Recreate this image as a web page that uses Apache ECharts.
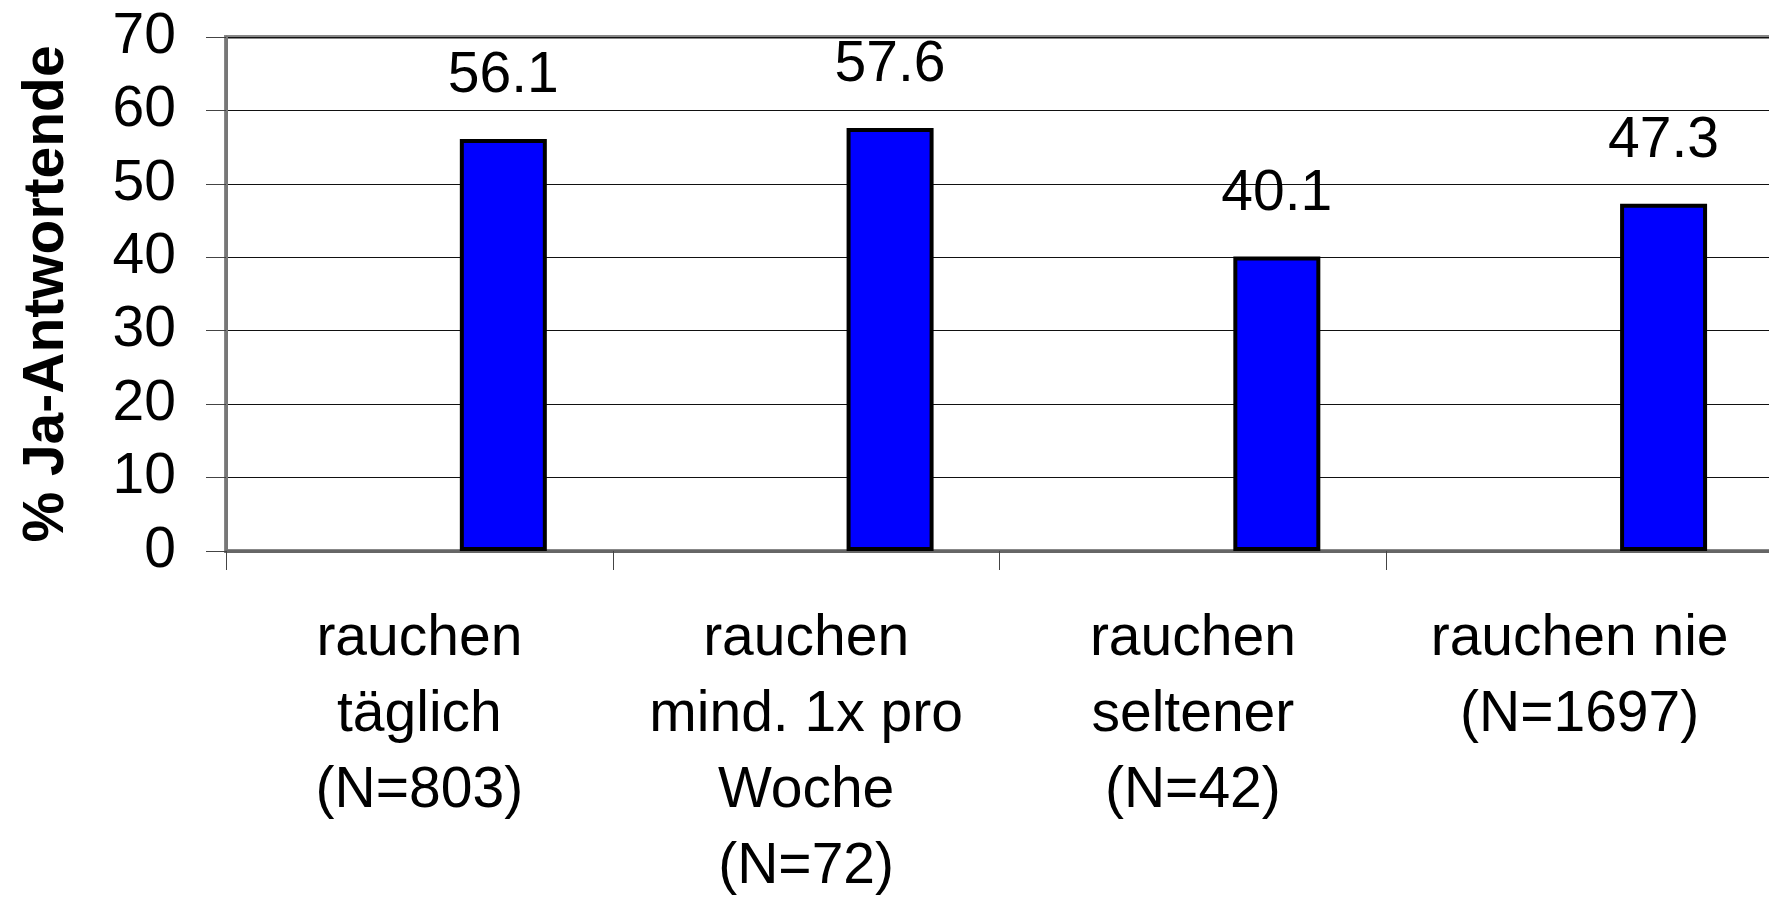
<!DOCTYPE html>
<html>
<head>
<meta charset="utf-8">
<script src="https://cdn.jsdelivr.net/npm/echarts@6/dist/echarts.min.js"></script>
<style>
    html, body { margin: 0; padding: 0; background: #fff; }
    #chart { width: 1769px; height: 898px; }
</style>
</head>
<body>
<div id="chart"></div>
<script>
    // Kategorien und Werte (% Ja-Antwortende)
    var categories = [
        'rauchen\ntäglich\n(N=803)',
        'rauchen\nmind. 1x pro\nWoche\n(N=72)',
        'rauchen\nseltener\n(N=42)',
        'rauchen nie\n(N=1697)'
    ];
    var jaWerte = [56.1, 57.6, 40.1, 47.3];
    // leere Reihe, schiebt die Balken wie im Original nach rechts
    var leer = ['-', '-', '-', '-'];
    var yTicks = [0, 10, 20, 30, 40, 50, 60, 70];

    var chart = echarts.init(document.getElementById('chart'));
    var font = 'Liberation Sans, Arial, sans-serif';

    var option = {
        animation: false,
        backgroundColor: '#fff',
        grid: {
            left: 226,
            top: 37,
            right: -4,
            bottom: 347,
            outerBoundsMode: 'none',
            containLabel: false,
            show: true,
            borderColor: '#888',
            borderWidth: 4,
            backgroundColor: 'transparent'
        },
        xAxis: {
            type: 'category',
            data: categories,
            axisLine: { show: true, lineStyle: { color: '#666', width: 3 } },
            axisTick: { show: true, length: 19, lineStyle: { color: '#444', width: 1 } },
            axisLabel: {
                interval: 0,
                margin: 50,
                fontFamily: font,
                fontSize: 57,
                lineHeight: 76,
                color: '#000',
                align: 'center'
            }
        },
        yAxis: {
            type: 'value',
            min: yTicks[0],
            max: yTicks[yTicks.length - 1],
            interval: 10,
            name: '% Ja-Antwortende',
            nameLocation: 'middle',
            nameRotate: 90,
            nameGap: 150,
            nameTextStyle: {
                fontFamily: font,
                fontSize: 57,
                fontWeight: 'bold',
                color: '#000'
            },
            axisLine: { show: true, lineStyle: { color: '#777', width: 3 } },
            axisTick: { show: true, inside: false, length: 20, lineStyle: { color: '#444', width: 1 } },
            axisLabel: {
                margin: 50,
                fontFamily: font,
                fontSize: 57,
                color: '#000'
            },
            splitLine: { show: true, lineStyle: { color: '#111', width: 1 } }
        },
        series: [{
            name: 'leer',
            type: 'bar',
            data: leer,
            barWidth: 87,
            barGap: '93%'
        }, {
            name: 'Ja',
            type: 'bar',
            data: jaWerte,
            barWidth: 87,
            barGap: '93%',
            itemStyle: {
                color: '#0000ff',
                borderColor: '#000',
                borderWidth: 4
            },
            label: {
                show: true,
                position: 'top',
                distance: 34,
                fontFamily: font,
                fontSize: 57,
                color: '#000'
            }
        }]
    };
    chart.setOption(option);
</script>
</body>
</html>
